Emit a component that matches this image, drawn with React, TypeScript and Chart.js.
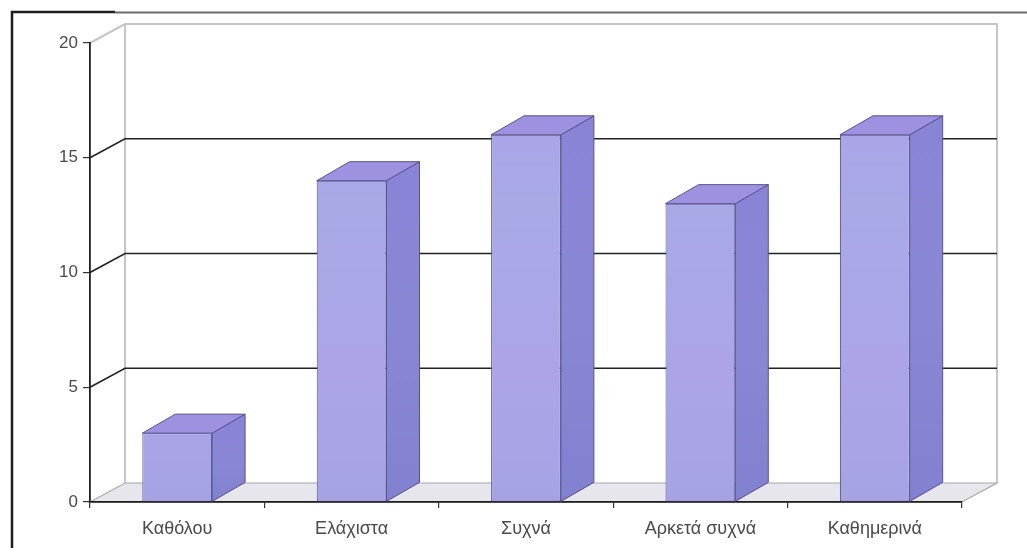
import { useEffect, useRef } from "react";
import { Chart, registerables } from "chart.js";

Chart.register(...registerables);

// Survey answers and how many people gave each one
const categories = ["Καθόλου", "Ελάχιστα", "Συχνά", "Αρκετά συχνά", "Καθημερινά"];
const counts = [3, 14, 16, 13, 16];
const yMin = 0;
const yMax = 20;
const yStep = 5;

// Perspective offset of the 3D box (back wall and bar depth)
const DEPTH_X = 35;
const DEPTH_Y = -19;

const FONT = "'Liberation Sans', Arial, Helvetica, sans-serif";

const box3d = {
  id: "box3d",
  beforeDraw(chart: any) {
    const ctx = chart.ctx as CanvasRenderingContext2D;
    const { left, right, top, bottom } = chart.chartArea;
    const yScale = chart.scales.y;
    ctx.save();
    ctx.fillStyle = "#ffffff";
    ctx.fillRect(0, 0, chart.width, chart.height);

    // page frame
    ctx.lineCap = "butt";
    ctx.strokeStyle = "#1e1e1e";
    ctx.lineWidth = 2.5;
    ctx.beginPath();
    ctx.moveTo(12, 548);
    ctx.lineTo(12, 12);
    ctx.lineTo(115, 12);
    ctx.stroke();
    ctx.strokeStyle = "#6a6a6a";
    ctx.lineWidth = 2;
    ctx.beginPath();
    ctx.moveTo(115, 12.5);
    ctx.lineTo(chart.width, 12.5);
    ctx.stroke();

    // floor
    ctx.beginPath();
    ctx.moveTo(left, bottom);
    ctx.lineTo(left + DEPTH_X, bottom + DEPTH_Y);
    ctx.lineTo(right + DEPTH_X, bottom + DEPTH_Y);
    ctx.lineTo(right, bottom);
    ctx.closePath();
    ctx.fillStyle = "#e6e6ec";
    ctx.fill();
    ctx.strokeStyle = "#a8a8b0";
    ctx.lineWidth = 1.2;
    ctx.stroke();

    // wall edges
    ctx.strokeStyle = "#c6c6c6";
    ctx.lineWidth = 2;
    ctx.beginPath();
    ctx.moveTo(left + DEPTH_X, bottom + DEPTH_Y);
    ctx.lineTo(left + DEPTH_X, top + DEPTH_Y);
    ctx.lineTo(right + DEPTH_X, top + DEPTH_Y);
    ctx.lineTo(right + DEPTH_X, bottom + DEPTH_Y);
    ctx.moveTo(left, top);
    ctx.lineTo(left + DEPTH_X, top + DEPTH_Y);
    ctx.stroke();

    // gridlines across the side and back walls
    ctx.strokeStyle = "#222222";
    ctx.lineWidth = 1.6;
    for (let v = yMin + yStep; v < yMax; v += yStep) {
      const py = yScale.getPixelForValue(v);
      ctx.beginPath();
      ctx.moveTo(left, py);
      ctx.lineTo(left + DEPTH_X, py + DEPTH_Y);
      ctx.lineTo(right + DEPTH_X, py + DEPTH_Y);
      ctx.stroke();
    }
    ctx.restore();
  },
  afterDatasetsDraw(chart: any) {
    const ctx = chart.ctx as CanvasRenderingContext2D;
    const meta = chart.getDatasetMeta(0);
    ctx.save();
    ctx.lineJoin = "round";
    meta.data.forEach((bar: any) => {
      const { x, y, base, width } = bar.getProps(["x", "y", "base", "width"], true);
      const l = x - width / 2;
      const r = x + width / 2;
      const dx = DEPTH_X - 2;

      // side face
      const side = ctx.createLinearGradient(0, y, 0, base);
      side.addColorStop(0, "#8a84d6");
      side.addColorStop(0.5, "#8987d4");
      side.addColorStop(1, "#8281cf");
      ctx.beginPath();
      ctx.moveTo(r, y);
      ctx.lineTo(r + dx, y + DEPTH_Y);
      ctx.lineTo(r + dx, base + DEPTH_Y);
      ctx.lineTo(r, base);
      ctx.closePath();
      ctx.fillStyle = side;
      ctx.fill();
      ctx.strokeStyle = "#55528f";
      ctx.lineWidth = 1;
      ctx.stroke();

      // top face
      ctx.beginPath();
      ctx.moveTo(l, y);
      ctx.lineTo(l + dx, y + DEPTH_Y);
      ctx.lineTo(r + dx, y + DEPTH_Y);
      ctx.lineTo(r, y);
      ctx.closePath();
      ctx.fillStyle = "#9e92e0";
      ctx.fill();
      ctx.stroke();
    });
    ctx.restore();
  },
};

export default function App() {
  const canvasRef = useRef<HTMLCanvasElement | null>(null);

  useEffect(() => {
    const canvas = canvasRef.current;
    if (!canvas) return;
    const chart = new Chart(canvas, {
      type: "bar",
      data: {
        labels: categories,
        datasets: [
          {
            data: counts,
            backgroundColor: (c: any) => {
              const area = c.chart.chartArea;
              if (!area) return "#aaa6e6";
              const g = c.chart.ctx.createLinearGradient(0, area.top, 0, area.bottom);
              g.addColorStop(0, "#ab9fe8");
              g.addColorStop(0.35, "#a9a9e6");
              g.addColorStop(0.7, "#aba5e8");
              g.addColorStop(1, "#a6a3e4");
              return g;
            },
            borderColor: "#55528f",
            borderWidth: 1,
            borderSkipped: false,
            categoryPercentage: 1,
            barPercentage: 0.4,
          },
        ],
      },
      plugins: [box3d],
      options: {
        responsive: false,
        animation: false,
        devicePixelRatio: 1,
        layout: { padding: { left: 0, top: 43, right: 65, bottom: 0 } },
        plugins: {
          legend: { display: false },
          title: { display: false },
          tooltip: { enabled: false },
        },
        scales: {
          x: {
            grid: {
              offset: true,
              drawOnChartArea: false,
              drawTicks: true,
              tickLength: 6,
              color: "#333",
              lineWidth: 1.2,
            },
            border: { display: true, color: "#1e1e1e", width: 1.8 },
            ticks: {
              color: "#4a4a4a",
              padding: 10,
              font: { family: FONT, size: 18 },
            },
            afterFit: (s: any) => {
              s.height = 53;
            },
          },
          y: {
            min: yMin,
            max: yMax,
            grid: {
              drawOnChartArea: false,
              drawTicks: true,
              tickLength: 7,
              color: "#333",
              lineWidth: 1.2,
            },
            border: { display: true, color: "#1e1e1e", width: 1.8 },
            ticks: {
              stepSize: yStep,
              color: "#4a4a4a",
              padding: 5,
              font: { family: FONT, size: 17 },
            },
            afterFit: (s: any) => {
              s.width = 90;
            },
          },
        },
      },
    });
    return () => chart.destroy();
  }, []);

  return (
    <div style={{ position: "absolute", left: 0, top: 0, width: 1027, height: 555, background: "#fff" }}>
      <canvas ref={canvasRef} width={1027} height={555} />
    </div>
  );
}
